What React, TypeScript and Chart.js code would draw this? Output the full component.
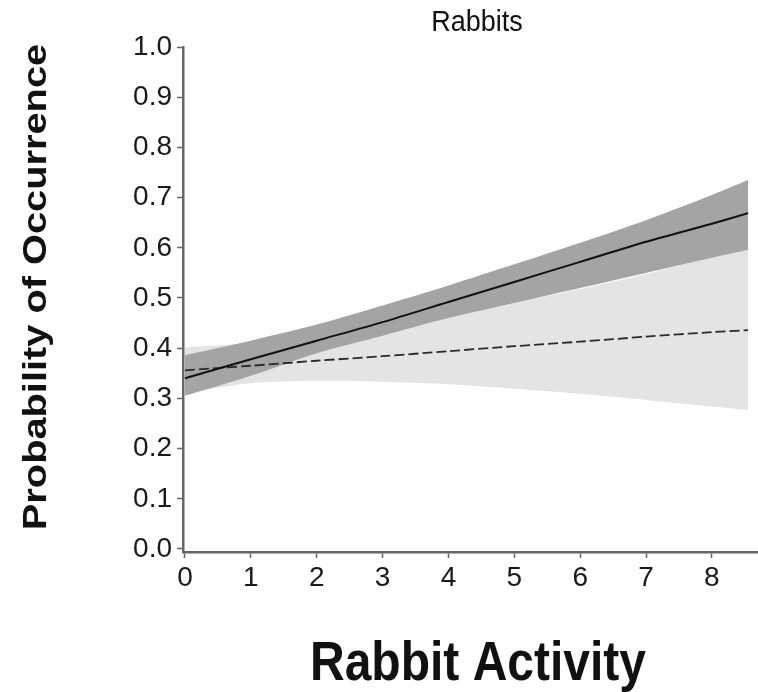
import React, { useEffect, useRef } from "react";
import { Chart, registerables } from "chart.js";

Chart.register(...registerables);

const activity = [0, 1, 2, 3, 4, 5, 6, 7, 8, 8.55];
const solidMean = [0.34, 0.378, 0.415, 0.452, 0.492, 0.532, 0.572, 0.612, 0.648, 0.669];
const darkUpper = [0.386, 0.415, 0.447, 0.485, 0.525, 0.567, 0.61, 0.655, 0.705, 0.735];
const darkLower = [0.305, 0.345, 0.39, 0.425, 0.46, 0.49, 0.52, 0.55, 0.58, 0.596];
const dashedMean = [0.356, 0.365, 0.375, 0.384, 0.394, 0.404, 0.413, 0.423, 0.432, 0.436];
const lightUpper = [0.402, 0.41, 0.422, 0.44, 0.462, 0.49, 0.518, 0.548, 0.582, 0.6];
const lightLower = [0.31, 0.33, 0.335, 0.333, 0.328, 0.319, 0.309, 0.297, 0.284, 0.277];
const yTicks = [0, 0.1, 0.2, 0.3, 0.4, 0.5, 0.6, 0.7, 0.8, 0.9, 1.0];
const xTicks = [0, 1, 2, 3, 4, 5, 6, 7, 8];

const chartTitle = "Rabbits";
const xTitle = "Rabbit Activity";
const yTitle = "Probability of Occurrence";

const FONT = "'Liberation Sans', Arial, sans-serif";

const pts = (ys: number[]) => activity.map((x, i) => ({ x, y: ys[i] }));

const titlesPlugin = {
  id: "titles",
  afterDraw(chart: any) {
    const ctx = chart.ctx;
    ctx.save();
    ctx.fillStyle = "#111";
    ctx.textAlign = "center";
    ctx.textBaseline = "middle";
    ctx.translate(477, 23);
    ctx.scale(1, 1.1);
    ctx.font = `27px ${FONT}`;
    ctx.fillText(chartTitle, 0, 0);
    ctx.restore();

    ctx.save();
    ctx.fillStyle = "#111";
    ctx.textAlign = "center";
    ctx.textBaseline = "middle";
    ctx.translate(478, 665);
    ctx.scale(1, 1.15);
    ctx.font = `bold 48px ${FONT}`;
    ctx.fillText(xTitle, 0, 0);
    ctx.restore();

    ctx.save();
    ctx.fillStyle = "#111";
    ctx.textAlign = "center";
    ctx.textBaseline = "middle";
    ctx.translate(37, 287);
    ctx.scale(1, 1.17);
    ctx.rotate(-Math.PI / 2);
    ctx.font = `bold 34px ${FONT}`;
    ctx.fillText(yTitle, 0, 0);
    ctx.restore();
  },
};

export default function App() {
  const ref = useRef<HTMLCanvasElement>(null);
  useEffect(() => {
    if (!ref.current) return;
    const common = { pointRadius: 0, borderWidth: 0, tension: 0.3 };
    const chart = new Chart(ref.current, {
      type: "line",
      data: {
        datasets: [
          { ...common, data: pts(lightUpper), fill: "+1", backgroundColor: "#e4e4e4", borderColor: "#e4e4e4", order: 4 },
          { ...common, data: pts(lightLower), fill: false, borderColor: "#e4e4e4", order: 4 },
          { ...common, data: pts(darkUpper), fill: "+1", backgroundColor: "#a4a4a4", borderColor: "#a4a4a4", order: 3 },
          { ...common, data: pts(darkLower), fill: false, borderColor: "#a4a4a4", order: 3 },
          { ...common, data: pts(dashedMean), fill: false, borderColor: "#2a2a2a", borderWidth: 1.8, borderDash: [10, 4], order: 2 },
          { ...common, data: pts(solidMean), fill: false, borderColor: "#111", borderWidth: 2, order: 1 },
        ],
      },
      options: {
        animation: false,
        responsive: false,
        maintainAspectRatio: false,
        layout: { padding: { top: 47, left: 0, right: 0, bottom: 0 } },
        plugins: { legend: { display: false }, title: { display: false }, tooltip: { enabled: false } },
        scales: {
          x: {
            type: "linear",
            min: -0.03,
            max: 8.7,
            afterBuildTicks: (s: any) => { s.ticks = xTicks.map((v) => ({ value: v })); },
            afterFit: (s: any) => { s.height = 692 - 552; },
            grid: { drawOnChartArea: false, drawTicks: true, tickLength: 6, tickColor: "#666", tickWidth: 1.5 },
            border: { display: true, color: "#666", width: 2.5 },
            ticks: { color: "#1a1a1a", font: { family: FONT, size: 28 }, padding: 3, maxRotation: 0, autoSkip: false, callback: (v: any) => String(v) },
          },
          y: {
            type: "linear",
            min: -0.006,
            max: 1.0,
            afterBuildTicks: (s: any) => { s.ticks = yTicks.map((v) => ({ value: v })); },
            afterFit: (s: any) => { s.width = 183; },
            grid: { drawOnChartArea: false, drawTicks: true, tickLength: 6, tickColor: "#666", tickWidth: 1.5 },
            border: { display: true, color: "#666", width: 2.5 },
            ticks: { color: "#1a1a1a", font: { family: FONT, size: 28 }, padding: 5, autoSkip: false, callback: (v: any) => Number(v).toFixed(1) },
          },
        },
      },
      plugins: [titlesPlugin],
    });
    return () => chart.destroy();
  }, []);
  return (
    <div style={{ position: "fixed", left: 0, top: 0, width: 758, height: 692, background: "#fff" }}>
      <canvas ref={ref} width={758} height={692} style={{ width: 758, height: 692, display: "block" }} />
    </div>
  );
}
